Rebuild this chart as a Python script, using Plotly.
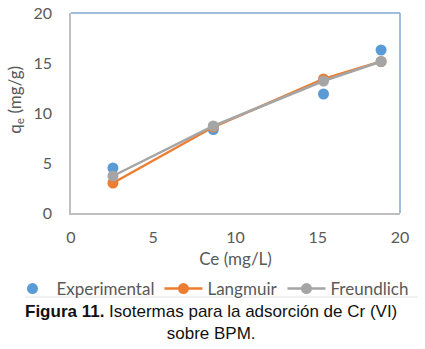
import plotly.graph_objects as go

ce = [2.55, 8.65, 15.35, 18.85]
q_exp = [4.5, 8.35, 11.9, 16.3]
q_lang = [3.0, 8.6, 13.4, 15.15]
q_freu = [3.7, 8.7, 13.2, 15.15]

FONT = "Lato"
TXT = "#595959"

fig = go.Figure()
fig.add_trace(go.Scatter(x=ce, y=q_exp, mode="markers", name="Experimental",
                         marker=dict(color="#5B9BD5", size=11)))
fig.add_trace(go.Scatter(x=ce, y=q_lang, mode="lines+markers", name="Langmuir",
                         line=dict(color="#ED7D31", width=2.5),
                         marker=dict(color="#ED7D31", size=11)))
fig.add_trace(go.Scatter(x=ce, y=q_freu, mode="lines+markers", name="Freundlich",
                         line=dict(color="#A5A5A5", width=2.5),
                         marker=dict(color="#A5A5A5", size=11)))

fig.update_layout(
    width=425, height=349,
    margin=dict(l=71, r=25, t=13, b=136, autoexpand=False),
    paper_bgcolor="white", plot_bgcolor="white",
    font=dict(family=FONT, size=16, color=TXT),
    showlegend=True,
    legend=dict(orientation="h", x=-0.19, xanchor="left", y=-0.38, yanchor="middle",
                font=dict(family=FONT, size=17, color=TXT), itemwidth=38,
                tracegroupgap=0, traceorder="normal", bgcolor="rgba(0,0,0,0)"),
    xaxis=dict(range=[0, 20], dtick=5, showgrid=False, zeroline=False, automargin=False,
               showline=True, linecolor="#BFBFBF", linewidth=1.5, ticks="",
               ticklabelstandoff=9, ticklabeloverflow="allow",
               tickfont=dict(family=FONT, size=16, color=TXT),
               title=dict(text="Ce (mg/L)", font=dict(family=FONT, size=17, color=TXT), standoff=8)),
    yaxis=dict(range=[0, 20], dtick=5, showgrid=False, zeroline=False, automargin=False,
               showline=True, linecolor="#BFBFBF", linewidth=1.5, ticks="",
               ticklabelstandoff=14, ticklabeloverflow="allow",
               tickfont=dict(family=FONT, size=16, color=TXT)),
)
fig.add_annotation(xref="paper", yref="paper", x=-0.168, y=0.565, xanchor="center", yanchor="middle",
                   text="q<sub>e</sub> (mg/g)", textangle=-90, showarrow=False, borderpad=0,
                   font=dict(family=FONT, size=17, color=TXT))
# top/right border in blue
fig.add_shape(type="line", xref="paper", yref="paper", x0=0, x1=1, y0=1, y1=1,
              line=dict(color="#7FA7D0", width=1.5))
fig.add_shape(type="line", xref="paper", yref="paper", x0=1, x1=1, y0=0, y1=1,
              line=dict(color="#7FA7D0", width=1.5))
# separator line
fig.add_shape(type="line", xref="paper", yref="paper", x0=-0.14, x1=1.055, y0=-0.42, y1=-0.42,
              line=dict(color="#E6E6E6", width=1))
fig.add_annotation(xref="paper", yref="paper", x=0.4255, y=-0.435, xanchor="center", yanchor="top",
                   text="<b>Figura 11.</b> Isotermas para la adsorción de Cr (VI)<br>sobre BPM.",
                   showarrow=False, align="center",
                   font=dict(family="Liberation Sans", size=17, color="#111111"))

fig.write_html("out.html", config={"displayModeBar": False},
               post_script="document.body.style.margin='0';")
